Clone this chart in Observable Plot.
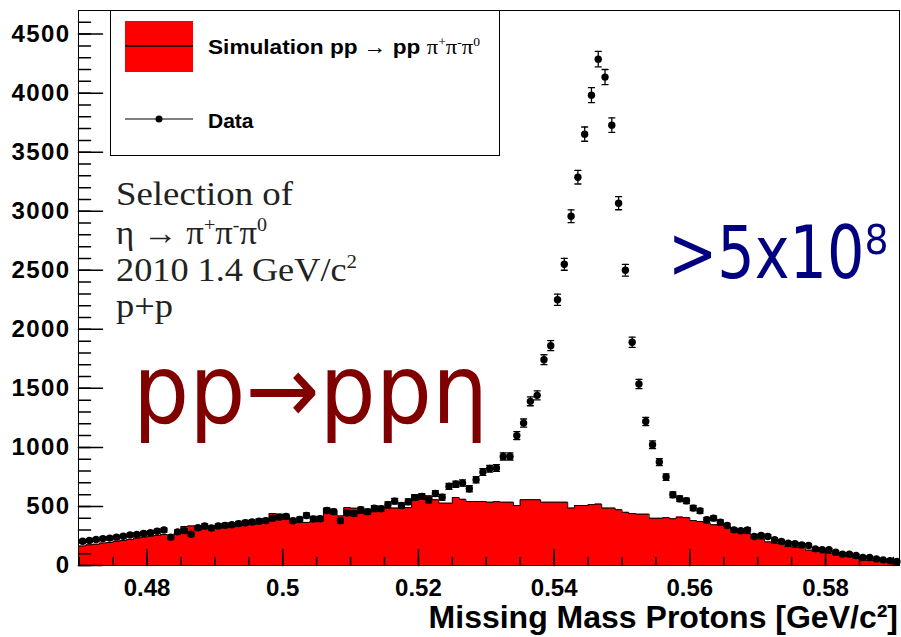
<!DOCTYPE html>
<html><head><meta charset="utf-8">
<script src="https://cdn.jsdelivr.net/npm/d3@7"></script>
<script src="https://cdn.jsdelivr.net/npm/@observablehq/plot@0.6"></script>
<style>
html,body{margin:0;padding:0;background:#fff;}
#chart{width:901px;height:637px;overflow:hidden;}
</style>
</head><body><div id="chart"></div>
<script>
// Histogram binning (missing mass, GeV/c^2)
const binStart = 0.47;
const binWidth = 0.001;

// Data counts per bin
const dataCounts = [
  205,212,220,228,232,240,248,258,262,272,278,290,300,240,285,295,265,320,335,318,
  335,340,345,355,362,368,375,380,400,410,
  415,379,390,424,395,396,466,455,379,445,440,472,455,485,480,515,545,508,540,575,
  585,555,610,578,670,689,698,650,726,791,820,825,924,924,1100,1206,1390,1441,1743,1862,
  2250,2551,2958,3288,3653,3983,4288,4136,3729,3068,2500,1890,1537,
  1220,1023,876,749,599,565,548,486,463,387,401,367,339,302,294,302,246,254,246,218,
  203,189,184,175,170,141,133,133,113,96,96,85,68,68,56,48,40,34
];

// Simulation pp -> pp pi+ pi- pi0 counts per bin
const simCounts = [
  165,175,180,190,195,205,212,220,232,240,248,255,262,255,270,330,335,300,310,315,
  320,330,335,340,345,350,360,380,440,435,
  425,370,365,365,370,380,480,470,420,490,485,440,445,455,486,486,486,486,490,599,
  599,590,557,528,528,576,560,542,542,542,536,540,536,536,508,557,557,557,536,536,
  536,536,486,508,508,515,520,486,486,472,450,440,435,
  435,400,400,405,396,410,405,380,373,360,345,340,330,300,288,270,231,225,200,189,
  185,160,155,150,130,122,119,105,90,80,76,60,48,42,38,32,25,20
];

const xTickValues = [0.48, 0.50, 0.52, 0.54, 0.56, 0.58];
const yTickValues = [0, 500, 1000, 1500, 2000, 2500, 3000, 3500, 4000, 4500];
const xMinorTicks = [0.47,0.475,0.48,0.485,0.49,0.495,0.50,0.505,0.51,0.515,0.52,0.525,0.53,0.535,0.54,0.545,0.55,0.555,0.56,0.565,0.57,0.575,0.58,0.585,0.59];
const yMinorTicks = d3.range(0, 4601, 100);

const legendLabels = ["Simulation pp ", "→", " pp ", "π", "+", "π", "-", "π", "0"];
const xTitle = "Missing Mass Protons [GeV/c²]";

const bins = dataCounts.map((v, i) => ({
  xc: binStart + (i + 0.5) * binWidth,
  v,
  err: Math.sqrt(v) // Poisson error
}));
const simStep = simCounts.map((v, i) => ({x: binStart + i * binWidth, y: v}))
  .concat([{x: binStart + simCounts.length * binWidth, y: simCounts[simCounts.length - 1]}]);

const tickRight = {draw(ctx, l) { ctx.moveTo(0, 0); ctx.lineTo(l, 0); }};
const tickUp = {draw(ctx, l) { ctx.moveTo(0, 0); ctx.lineTo(0, -l); }};
const capShape = {draw(ctx, l) { ctx.moveTo(-l / 2, 0); ctx.lineTo(l / 2, 0); }};

const plot = Plot.plot({
  width: 901, height: 637,
  marginLeft: 78, marginRight: 2, marginTop: 10, marginBottom: 72,
  x: {domain: [0.4699, 0.5909]},
  y: {domain: [0, 4700]},
  style: {fontFamily: "'Liberation Sans', Arial, sans-serif", background: "white", color: "black"},
  marks: [
    Plot.areaY(simStep, {x: "x", y: "y", curve: "step-after", fill: "#ff0000"}),
    Plot.line(simStep, {x: "x", y: "y", curve: "step-after", stroke: "black", strokeWidth: 1}),
    Plot.ruleX(bins, {x: "xc", y1: d => d.v - d.err, y2: d => d.v + d.err, stroke: "black", strokeWidth: 1.3}),
    Plot.vector(bins, {x: "xc", y: d => d.v + d.err, length: 6, anchor: "start", shape: capShape, stroke: "black", strokeWidth: 1.3}),
    Plot.vector(bins, {x: "xc", y: d => d.v - d.err, length: 6, anchor: "start", shape: capShape, stroke: "black", strokeWidth: 1.3}),
    Plot.dot(bins, {x: "xc", y: "v", r: 3.7, fill: "black"}),
    Plot.frame({stroke: "black", strokeWidth: 1}),
    Plot.vector(yMinorTicks, {y: d => d, frameAnchor: "left", length: 12, anchor: "start", shape: tickRight, stroke: "black"}),
    Plot.vector(yTickValues, {y: d => d, frameAnchor: "left", length: 24, anchor: "start", shape: tickRight, stroke: "black"}),
    Plot.vector(xMinorTicks, {x: d => d, frameAnchor: "bottom", length: 8, anchor: "start", shape: tickUp, stroke: "black"}),
    Plot.vector(xTickValues, {x: d => d, frameAnchor: "bottom", length: 16, anchor: "start", shape: tickUp, stroke: "black"}),
    Plot.axisY({ticks: yTickValues, tickSize: 0, tickPadding: 8, label: null, fontSize: 24, fontWeight: "bold",
      tickFormat: d => String(d)}),
    Plot.axisX({ticks: xTickValues, tickSize: 0, tickPadding: 13, label: null, fontSize: 24, fontWeight: "bold",
      tickFormat: d => String(+d.toFixed(2))})
  ]
});
document.getElementById("chart").appendChild(plot);

const svg = d3.select(plot);
svg.selectAll("[aria-label='y-axis tick label'] text, [aria-label='x-axis tick label'] text")
  .style("font-size", "24px").style("font-weight", "bold");
svg.selectAll("[aria-label='y-axis tick label'] text").style("letter-spacing", "1.4px");

const ann = svg.append("g").attr("text-anchor", "start");

// Legend
ann.append("rect").attr("x", 110.5).attr("y", 10.5).attr("width", 389).attr("height", 145)
  .attr("fill", "white").attr("stroke", "black").attr("stroke-width", 1);
ann.append("rect").attr("x", 125).attr("y", 21).attr("width", 68).attr("height", 51).attr("fill", "#ff0000");
ann.append("line").attr("x1", 125).attr("x2", 193).attr("y1", 46).attr("y2", 46).attr("stroke", "black").attr("stroke-width", 1.5);
ann.append("line").attr("x1", 125).attr("x2", 193).attr("y1", 119).attr("y2", 119).attr("stroke", "#555").attr("stroke-width", 1.5);
ann.append("circle").attr("cx", 159).attr("cy", 119).attr("r", 3.5).attr("fill", "black");

const lt = ann.append("text").attr("x", 208).attr("y", 54)
  .attr("font-family", "'Liberation Sans', Arial, sans-serif").attr("font-weight", "bold").attr("font-size", 21);
lt.append("tspan").text(legendLabels[0]);
lt.append("tspan").attr("font-weight", "normal").text(legendLabels[1]);
lt.append("tspan").text(legendLabels[2]);
const serifPi = (parent, fs) => {
  const f = "'Liberation Serif', 'Times New Roman', serif";
  parent.append("tspan").attr("font-family", f).attr("font-weight", "normal").text(legendLabels[3]);
  parent.append("tspan").attr("font-family", f).attr("font-weight", "normal").attr("font-size", fs * 0.6).attr("dy", -fs * 0.4).text(legendLabels[4]);
  parent.append("tspan").attr("font-family", f).attr("font-weight", "normal").attr("dy", fs * 0.4).text(legendLabels[5]);
  parent.append("tspan").attr("font-family", f).attr("font-weight", "normal").attr("font-size", fs * 0.6).attr("dy", -fs * 0.4).text(legendLabels[6]);
  parent.append("tspan").attr("font-family", f).attr("font-weight", "normal").attr("dy", fs * 0.4).text(legendLabels[7]);
  parent.append("tspan").attr("font-family", f).attr("font-weight", "normal").attr("font-size", fs * 0.6).attr("dy", -fs * 0.4).text(legendLabels[8]);
};
serifPi(lt, 21);
lt.attr("textLength", 272).attr("lengthAdjust", "spacingAndGlyphs");

ann.append("text").attr("x", 208).attr("y", 128)
  .attr("font-family", "'Liberation Sans', Arial, sans-serif").attr("font-weight", "bold").attr("font-size", 21)
  .text("Data");

// Selection text block (serif)
const serif = "'Liberation Serif', 'Times New Roman', serif";
ann.append("text").attr("x", 116).attr("y", 205).attr("font-family", serif).attr("font-size", 33).attr("fill", "#222")
  .text("Selection of").attr("textLength", 177).attr("lengthAdjust", "spacingAndGlyphs");
const s2 = ann.append("text").attr("x", 116).attr("y", 244).attr("font-family", serif).attr("font-size", 33).attr("fill", "#222");
s2.append("tspan").text("η → ");
s2.append("tspan").text("π");
s2.append("tspan").attr("font-size", 19).attr("dy", -13).text("+");
s2.append("tspan").attr("dy", 13).text("π");
s2.append("tspan").attr("font-size", 19).attr("dy", -13).text("-");
s2.append("tspan").attr("dy", 13).text("π");
s2.append("tspan").attr("font-size", 19).attr("dy", -13).text("0");
s2.attr("textLength", 151).attr("lengthAdjust", "spacingAndGlyphs");
const s3 = ann.append("text").attr("x", 116).attr("y", 281).attr("font-family", serif).attr("font-size", 33).attr("fill", "#222");
s3.append("tspan").text("2010 1.4 GeV/c");
s3.append("tspan").attr("font-size", 19).attr("dy", -13).text("2");
s3.attr("textLength", 241).attr("lengthAdjust", "spacingAndGlyphs");
ann.append("text").attr("x", 116).attr("y", 317).attr("font-family", serif).attr("font-size", 33).attr("fill", "#222")
  .text("p+p").attr("textLength", 57).attr("lengthAdjust", "spacingAndGlyphs");

// Big annotations
ann.append("text").attr("x", 133).attr("y", 423).attr("font-family", "'DejaVu Sans', sans-serif").attr("font-size", 96)
  .attr("fill", "#800000").text("pp→ppη").attr("textLength", 355).attr("lengthAdjust", "spacingAndGlyphs");
ann.append("text").attr("transform", "translate(668,278) scale(1,1.22)").attr("x", 0).attr("y", 0)
  .attr("font-family", "'DejaVu Sans', sans-serif").attr("font-size", 60)
  .attr("fill", "#000080").text(">5x10⁸").attr("textLength", 220).attr("lengthAdjust", "spacingAndGlyphs");

// X axis title
ann.append("text").attr("x", 898).attr("y", 628).attr("text-anchor", "end")
  .attr("font-family", "'Liberation Sans', Arial, sans-serif").attr("font-weight", "bold").attr("font-size", 32)
  .text(xTitle);
</script>
</body></html>
